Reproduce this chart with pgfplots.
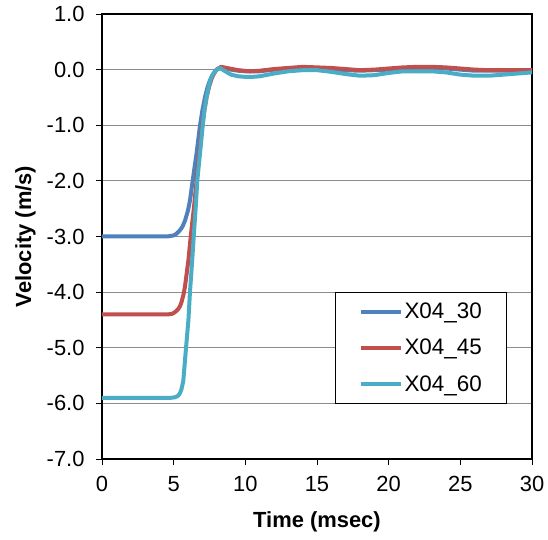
\documentclass[border=0pt]{standalone}
\usepackage{fontspec}
\setmainfont{Liberation Sans}
\usepackage{pgfplots}
\pgfplotsset{compat=1.18}
\definecolor{cBlue}{HTML}{4F81BD}
\definecolor{cRed}{HTML}{C0504D}
\definecolor{cCyan}{HTML}{4BACC6}
\definecolor{gridc}{HTML}{8C8C8C}

\begin{document}
\begin{tikzpicture}
\begin{axis}[
  scale only axis, width=430bp, height=445bp,
  xmin=0, xmax=30, ymin=-7, ymax=1,
  xtick={0,5,...,30}, ytick={-7,-6,...,1},
  xtick pos=left, ytick pos=left, tick align=outside,
  major tick length=6bp, tick style={black, line width=0.9pt},
  axis line style={black, line width=1.1pt},
  ymajorgrids, grid style={gridc, line width=0.9pt},
  /pgf/number format/assume math mode=true,
  tick label style={font=\fontsize{22}{26}\selectfont},
  xticklabel style={yshift=-8bp},
  yticklabel style={xshift=-8bp, /pgf/number format/fixed, /pgf/number format/fixed zerofill, /pgf/number format/precision=1},
  xlabel={Time (msec)}, ylabel={Velocity (m/s)},
  label style={font=\fontsize{22}{26}\selectfont\bfseries},
  xlabel style={at={(axis description cs:0.5,-0.155)}, anchor=base},
  ylabel style={at={(axis description cs:-0.165,0.5)}, anchor=base},
  legend style={at={(0.542,0.376)}, anchor=north west, draw=black, line width=0.9pt,
    font=\fontsize{22.5}{26}\selectfont, inner xsep=23bp, inner ysep=9bp,
    row sep=15bp, cells={anchor=west}},
  legend image code/.code={\draw[#1, line width=4bp] (0bp,0bp) -- (40bp,0bp);},
  every axis plot/.append style={line width=4bp, line join=round},
]
\addplot[cBlue] coordinates {
(0,-3.0) (4.5,-3.0) (4.8,-2.99) (5.0,-2.98) (5.2,-2.95) (5.4,-2.9) (5.6,-2.83)
(5.8,-2.71) (6.0,-2.53) (6.14,-2.35) (6.33,-1.99) (6.6,-1.5) (6.84,-1.0) (7.0,-0.74)
(7.19,-0.49) (7.37,-0.31) (7.54,-0.19) (7.7,-0.10) (7.89,-0.03) (8.05,0.01)
(8.23,0.03) (8.5,0.02) (9.0,0.0) (9.5,-0.02) (10,-0.03) (11,-0.03) (12,0.0)
(13,0.02) (14,0.03) (15,0.02) (16,0.01) (17,-0.01) (18,-0.02) (19,-0.01)
(20,0.0) (21,0.02) (22,0.03) (23,0.03) (24,0.02) (25,0.0) (26,-0.02)
(27,-0.02) (28,-0.02) (29,-0.01) (30,-0.01)
};
\addplot[cRed] coordinates {
(0,-4.4) (4.6,-4.4) (4.9,-4.39) (5.09,-4.36) (5.3,-4.31) (5.45,-4.25) (5.56,-4.17)
(5.68,-4.05) (5.79,-3.9) (6.03,-3.42) (6.19,-3.0) (6.42,-2.47) (6.6,-1.99) (6.79,-1.5)
(7.0,-1.0) (7.15,-0.72) (7.3,-0.49) (7.48,-0.30) (7.65,-0.16) (7.82,-0.07)
(8.0,0.0) (8.3,0.05) (8.7,0.03) (9.5,-0.01) (10.3,-0.03) (11,-0.02) (12,0.01)
(13,0.03) (14,0.05) (15,0.04) (16,0.03) (17,0.01) (18,-0.01) (19,0.0)
(20,0.02) (21,0.04) (22,0.05) (23,0.05) (24,0.04) (25,0.02) (26,0.0)
(27,-0.01) (28,-0.01) (29,-0.01) (30,-0.01)
};
\addplot[cCyan] coordinates {
(0,-5.9) (4.8,-5.9) (5.1,-5.89) (5.33,-5.86) (5.45,-5.81) (5.55,-5.74) (5.67,-5.6)
(5.86,-5.01) (6.03,-4.5) (6.14,-3.99) (6.28,-3.48) (6.4,-3.0) (6.54,-2.47)
(6.65,-1.99) (6.84,-1.5) (7.03,-1.0) (7.15,-0.72) (7.3,-0.49) (7.45,-0.30)
(7.6,-0.16) (7.78,-0.07) (7.96,-0.01) (8.23,0.03) (8.6,-0.03) (9.0,-0.09)
(9.5,-0.12) (10,-0.13) (10.5,-0.13) (11,-0.12) (12,-0.07) (13,-0.03)
(14,-0.01) (15,-0.01) (16,-0.04) (17,-0.08) (18,-0.11) (19,-0.1) (20,-0.06)
(21,-0.03) (22,-0.03) (23,-0.03) (24,-0.05) (25,-0.09) (26,-0.11) (27,-0.11)
(28,-0.09) (29,-0.07) (30,-0.05)
};
\legend{X04\_30, X04\_45, X04\_60}
\end{axis}
\path ([shift={(-102bp,-81bp)}]current axis.south west) rectangle ([shift={(16bp,14bp)}]current axis.north east);
\end{tikzpicture}
\end{document}
